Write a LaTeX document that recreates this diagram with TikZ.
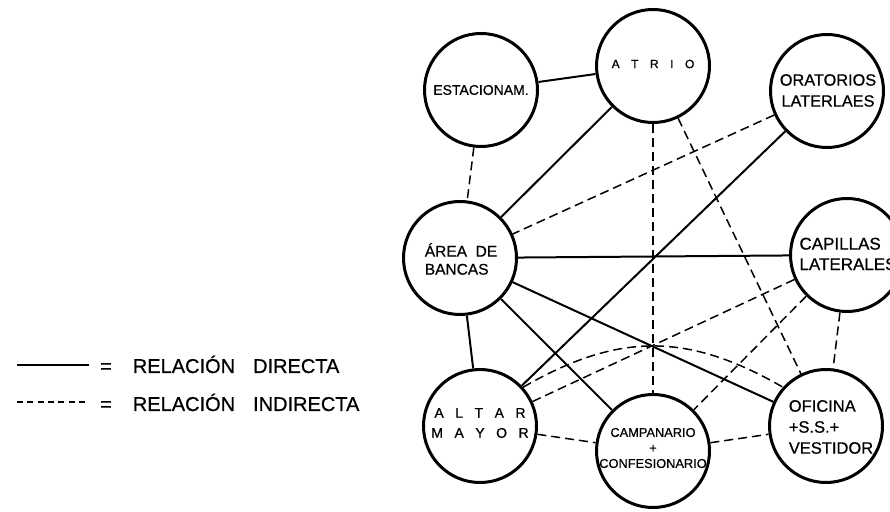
\documentclass[tikz,border=0pt]{standalone}
\usepackage{fontspec}
\setmainfont{Liberation Sans}[FakeBold=0.7]
\newcommand{\letsp}{\hspace{11.5pt}}

\begin{document}
\begin{tikzpicture}[x=1pt, y=1pt,
  room/.style={draw, circle, line width=3pt, minimum size=113pt, inner sep=0pt},
  direct/.style={line width=2pt},
  indirect/.style={line width=1.5pt, dash pattern=on 9pt off 5pt}]
  \useasboundingbox (0,0) rectangle (890,511);
  % rooms
  \node[room] (est) at (481,421) {};
  \node[room] (atrio) at (653,445) {};
  \node[room] (orat) at (827,420) {};
  \node[room] (bancas) at (460,253) {};
  \node[room] (capil) at (847,256) {};
  \node[room] (altar) at (480,85) {};
  \node[room] (campa) at (653,60) {};
  \node[room] (ofic) at (826,85) {};
  % names
  \node[font=\fontsize{14}{17}\selectfont] (estT) at (est) {ESTACIONAM.};
  \node[font=\fontsize{12}{14}\selectfont] (atrioT) at (653,447) {A\letsp T\letsp R\letsp I\letsp O};
  \node[align=center, font=\fontsize{16.3}{21}\selectfont] (oratT) at (828,420.5) {ORATORIOS\\LATERLAES};
  \node[align=left, font=\fontsize{15.5}{18}\selectfont] (bancasT) at (461,252) {ÁREA\ \ DE\\BANCAS};
  \node[align=left, font=\fontsize{17}{20.5}\selectfont] (capilT) at (848,257) {CAPILLAS\\LATERALES};
  \node[align=center, font=\fontsize{14}{20}\selectfont] (altarT) at (480,88) {A\letsp L\letsp T\letsp A\letsp R\\M\letsp A\letsp Y\letsp O\letsp R};
  \node[align=center, font=\fontsize{12.8}{15.5}\selectfont] (campaT) at (653,63) {CAMPANARIO\\+\\CONFESIONARIO};
  \node[align=left, font=\fontsize{16.5}{21}\selectfont] (oficT) at (831,84) {OFICINA\\+S.S.+\\VESTIDOR};
  % relations
  \foreach \a/\b in {est/atrio, atrio/bancas, orat/altar, bancas/capil, bancas/ofic, bancas/campa, bancas/altar}
    \draw[direct] (\a) -- (\b);
  \foreach \a/\b in {est/bancas, orat/bancas, atrio/campa, atrio/ofic, capil/altar, capil/campa, capil/ofic, altar/campa, campa/ofic}
    \draw[indirect] (\a) -- (\b);
  \draw[indirect] (altar.42) .. controls +(30:110) and +(150:110) .. (ofic.138);
  % legend
  \coordinate (dirA) at (17,146);
  \coordinate (dirB) at (89,146);
  \draw[direct] (dirA) -- (dirB);
  \node[anchor=base west, inner sep=0pt, font=\fontsize{20}{24}\selectfont] (dirT) at (100,138) {=\hspace{21pt}RELACIÓN\hspace{18pt}DIRECTA};
  \coordinate (indA) at (17,109);
  \coordinate (indB) at (89,109);
  \draw[line width=1.3pt, dash pattern=on 6pt off 4.3pt] (indA) -- (indB);
  \node[anchor=base west, inner sep=0pt, font=\fontsize{20}{24}\selectfont] (indT) at (100,100) {=\hspace{21pt}RELACIÓN\hspace{18pt}INDIRECTA};
\end{tikzpicture}
\end{document}
